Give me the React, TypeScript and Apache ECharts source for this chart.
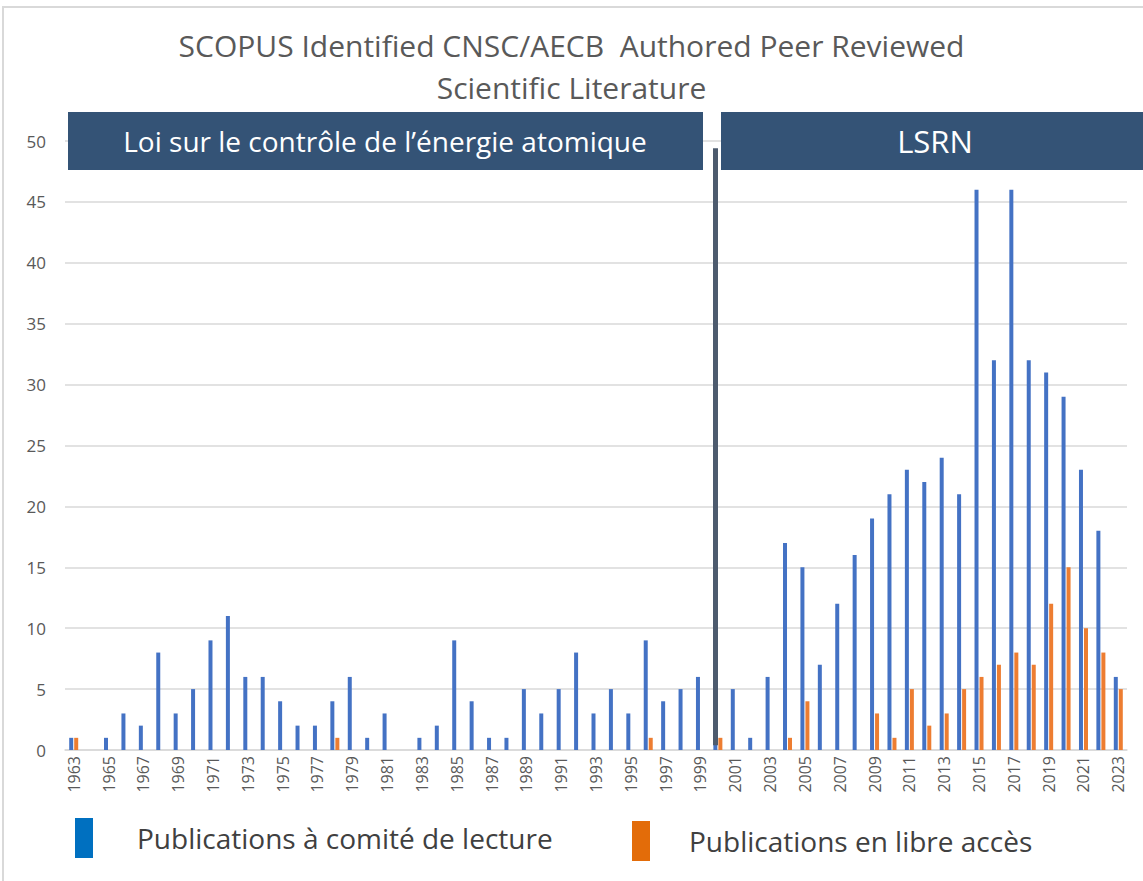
import React, { useEffect, useRef } from "react";
import * as echarts from "echarts";

const years = Array.from({ length: 61 }, (_, i) => String(1963 + i));
const peerReviewed = [
  1, 0, 1, 3, 2, 8, 3, 5, 9, 11, 6, 6, 4, 2, 2, 4, 6, 1, 3, 0,
  1, 2, 9, 4, 1, 1, 5, 3, 5, 8, 3, 5, 3, 9, 4, 5, 6, 1, 5, 1,
  6, 17, 15, 7, 12, 16, 19, 21, 23, 22, 24, 21, 46, 32, 46, 32, 31, 29, 23, 18,
  6,
];
const openAccess = [
  1, 0, 0, 0, 0, 0, 0, 0, 0, 0, 0, 0, 0, 0, 0, 1, 0, 0, 0, 0,
  0, 0, 0, 0, 0, 0, 0, 0, 0, 0, 0, 0, 0, 1, 0, 0, 0, 1, 0, 0,
  0, 1, 4, 0, 0, 0, 3, 1, 5, 2, 3, 5, 6, 7, 8, 7, 12, 15, 10, 8,
  5,
];
const seriesNames = ["Publications à comité de lecture", "Publications en libre accès"];
const titleLines = ["SCOPUS Identified CNSC/AECB  Authored Peer Reviewed", "Scientific Literature"];
const periodLabels = ["Loi sur le contrôle de l’énergie atomique", "LSRN"];
const dividerYear = "2000";
const dividerRange = [0.4, 49.4];

const FONT = "'Open Sans', sans-serif";

export default function App() {
  const ref = useRef<HTMLDivElement>(null);
  useEffect(() => {
    const chart = echarts.init(ref.current!, null, { renderer: "svg" });
    const legendText = (pad: number) => ({
      fontSize: 28,
      color: "#404040",
      fontFamily: FONT,
      padding: [4, 0, 0, pad],
    });
    chart.setOption({
      animation: false,
      backgroundColor: "#ffffff",
      title: {
        text: titleLines.join("\n"),
        left: "center",
        top: 19,
        textStyle: {
          fontSize: 30,
          fontWeight: "normal",
          color: "#595959",
          fontFamily: FONT,
          lineHeight: 42,
        },
      },
      legend: [
        {
          data: [{ name: seriesNames[0], itemStyle: { color: "#0070C0" } }],
          left: 75,
          top: 818,
          padding: 0,
          itemWidth: 18,
          itemHeight: 40,
          icon: "rect",
          selectedMode: false,
          textStyle: legendText(39),
        },
        {
          data: [{ name: seriesNames[1], itemStyle: { color: "#E36C09" } }],
          left: 632,
          top: 821,
          padding: 0,
          itemWidth: 18,
          itemHeight: 40,
          icon: "rect",
          selectedMode: false,
          textStyle: legendText(34),
        },
      ],
      grid: { left: 65, right: 16, top: 141, bottom: 131 },
      xAxis: {
        type: "category",
        data: years,
        axisLine: { lineStyle: { color: "#d9d9d9", width: 1.5 } },
        axisTick: { show: false },
        axisLabel: {
          rotate: 90,
          interval: 1,
          fontSize: 16,
          color: "#595959",
          fontFamily: FONT,
          margin: 6,
        },
      },
      yAxis: {
        type: "value",
        min: 0,
        max: 50,
        interval: 5,
        axisLine: { show: false },
        axisTick: { show: false },
        splitLine: { lineStyle: { color: "#d9d9d9", width: 1.5 } },
        axisLabel: { fontSize: 17, color: "#595959", fontFamily: FONT, margin: 19 },
      },
      series: [
        {
          name: seriesNames[0],
          type: "bar",
          data: peerReviewed,
          barWidth: 4,
          barGap: "25%",
          itemStyle: { color: "#4472C4" },
          markLine: {
            silent: true,
            symbol: ["none", "none"],
            label: { show: false },
            z: 20,
            lineStyle: { color: "#4d5b6e", width: 5, type: "solid", opacity: 1 },
            data: [
              [
                { xAxis: dividerYear, yAxis: dividerRange[0] },
                { xAxis: dividerYear, yAxis: dividerRange[1] },
              ],
            ],
          },
        },
        {
          name: seriesNames[1],
          type: "bar",
          data: openAccess,
          barWidth: 4,
          itemStyle: { color: "#ED7D31" },
        },
      ],
      graphic: [
        {
          type: "rect",
          z: 100,
          shape: { x: 68, y: 112, width: 635, height: 58 },
          style: { fill: "#345376" },
        },
        {
          type: "text",
          z: 101,
          x: 385,
          y: 141,
          style: {
            text: periodLabels[0],
            fill: "#ffffff",
            fontSize: 28,
            fontFamily: FONT,
            textAlign: "center",
            textVerticalAlign: "middle",
          },
        },
        {
          type: "rect",
          z: 100,
          shape: { x: 721, y: 112, width: 430, height: 58 },
          style: { fill: "#345376" },
        },
        {
          type: "text",
          z: 101,
          x: 935,
          y: 141,
          style: {
            text: periodLabels[1],
            fill: "#ffffff",
            fontSize: 31,
            fontFamily: FONT,
            textAlign: "center",
            textVerticalAlign: "middle",
          },
        },
        {
          type: "rect",
          z: 0,
          silent: true,
          shape: { x: 3, y: 7, width: 1200, height: 1000 },
          style: { fill: "none", stroke: "#d9d9d9", lineWidth: 2 },
        },
      ],
    });
    return () => chart.dispose();
  }, []);
  return (
    <div
      ref={ref}
      style={{ position: "fixed", left: 0, top: 0, width: 1143, height: 881 }}
    />
  );
}
